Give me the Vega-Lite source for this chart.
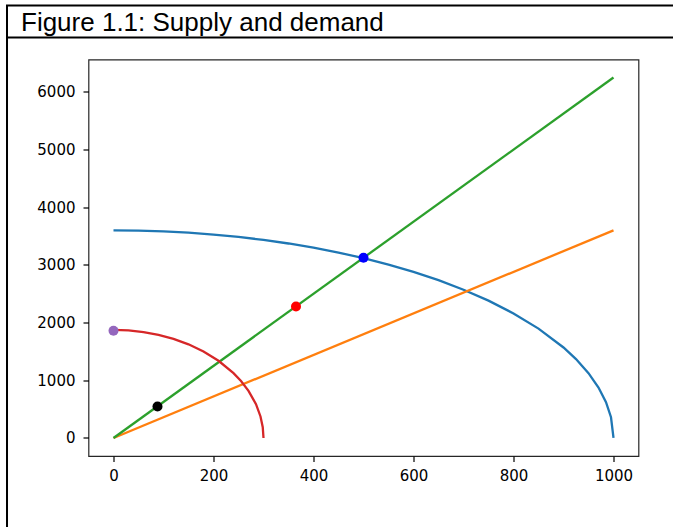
{
  "$schema": "https://vega.github.io/schema/vega-lite/v6.json",
  "autosize": {"type": "none"},
  "padding": {"left": 7, "top": 5.5, "right": 666, "bottom": 521.5},
  "background": "white",
  "config": {
    "view": {"stroke": null},
    "font": "DejaVu Sans",
    "axis": {
      "labelFont": "DejaVu Sans",
      "labelFontSize": 15,
      "labelColor": "#000",
      "tickColor": "#000",
      "tickWidth": 1.2,
      "tickSize": 5.5,
      "domain": false,
      "grid": false,
      "title": null,
      "labelPadding": 6,
      "format": "d"
    }
  },
  "datasets": {
    "curves": [
      {"curve": "curve 1", "x": 0, "y": 3600},
      {"curve": "curve 1", "x": 50, "y": 3595.5},
      {"curve": "curve 1", "x": 100, "y": 3582},
      {"curve": "curve 1", "x": 150, "y": 3559.3},
      {"curve": "curve 1", "x": 200, "y": 3527.3},
      {"curve": "curve 1", "x": 250, "y": 3485.7},
      {"curve": "curve 1", "x": 300, "y": 3434.2},
      {"curve": "curve 1", "x": 350, "y": 3372.3},
      {"curve": "curve 1", "x": 400, "y": 3299.5},
      {"curve": "curve 1", "x": 450, "y": 3214.9},
      {"curve": "curve 1", "x": 500, "y": 3117.7},
      {"curve": "curve 1", "x": 550, "y": 3006.6},
      {"curve": "curve 1", "x": 600, "y": 2880},
      {"curve": "curve 1", "x": 650, "y": 2735.7},
      {"curve": "curve 1", "x": 700, "y": 2570.9},
      {"curve": "curve 1", "x": 750, "y": 2381.2},
      {"curve": "curve 1", "x": 800, "y": 2160},
      {"curve": "curve 1", "x": 850, "y": 1896.4},
      {"curve": "curve 1", "x": 900, "y": 1569.2},
      {"curve": "curve 1", "x": 925, "y": 1367.9},
      {"curve": "curve 1", "x": 950, "y": 1124.1},
      {"curve": "curve 1", "x": 970, "y": 875.2},
      {"curve": "curve 1", "x": 985, "y": 621.2},
      {"curve": "curve 1", "x": 995, "y": 359.5},
      {"curve": "curve 1", "x": 1000, "y": 0},
      {"curve": "curve 2", "x": 0, "y": 0},
      {"curve": "curve 2", "x": 1000, "y": 3600},
      {"curve": "curve 3", "x": 0, "y": 0},
      {"curve": "curve 3", "x": 1000, "y": 6250},
      {"curve": "curve 4", "x": 0, "y": 1875},
      {"curve": "curve 4", "x": 30, "y": 1865.6},
      {"curve": "curve 4", "x": 60, "y": 1837.1},
      {"curve": "curve 4", "x": 90, "y": 1788.6},
      {"curve": "curve 4", "x": 120, "y": 1718.5},
      {"curve": "curve 4", "x": 150, "y": 1623.8},
      {"curve": "curve 4", "x": 180, "y": 1500},
      {"curve": "curve 4", "x": 210, "y": 1339},
      {"curve": "curve 4", "x": 240, "y": 1125},
      {"curve": "curve 4", "x": 255, "y": 987.7},
      {"curve": "curve 4", "x": 270, "y": 817.3},
      {"curve": "curve 4", "x": 285, "y": 585.5},
      {"curve": "curve 4", "x": 294, "y": 373.1},
      {"curve": "curve 4", "x": 298.5, "y": 187.3},
      {"curve": "curve 4", "x": 300, "y": 0}
    ],
    "points": [
      {"point": "purple", "x": 0, "y": 1860},
      {"point": "black", "x": 88, "y": 545},
      {"point": "red", "x": 365, "y": 2280},
      {"point": "blue", "x": 500, "y": 3125}
    ]
  },
  "bounds": "flush",
  "spacing": 0,
  "vconcat": [
    {
      "width": 668,
      "height": 32,
      "view": {"stroke": "#000", "strokeWidth": 2},
      "title": {
        "text": "Figure 1.1: Supply and demand",
        "anchor": "start",
        "frame": "group",
        "orient": "top",
        "offset": -30,
        "dx": 14,
        "font": "Liberation Sans",
        "fontSize": 26,
        "fontWeight": "normal",
        "color": "#000"
      },
      "data": {"values": []},
      "mark": "point"
    },
    {
      "bounds": "flush",
      "spacing": 80.5,
      "hconcat": [
        {
          "width": 0.01,
          "height": 520,
          "view": {"stroke": "#000", "strokeWidth": 2},
          "data": {"values": []},
          "mark": "point"
        },
        {
          "bounds": "flush",
          "spacing": 21,
          "vconcat": [
            {
              "width": 550,
              "height": 0.01,
              "data": {"values": []},
              "mark": "point"
            },
            {
              "width": 550,
              "height": 396.5,
              "view": {"stroke": "#262626", "strokeWidth": 1.2},
              "layer": [
                {
                  "data": {"name": "curves"},
                  "mark": {"type": "line", "strokeWidth": 2.3},
                  "encoding": {
                    "x": {"field": "x", "type": "quantitative", "scale": {"domain": [-50, 1050], "nice": false, "zero": false}, "axis": {"values": [0, 200, 400, 600, 800, 1000], "labelPadding": 7}},
                    "y": {"field": "y", "type": "quantitative", "scale": {"domain": [-312.5, 6562.5], "nice": false, "zero": false}, "axis": {"values": [0, 1000, 2000, 3000, 4000, 5000, 6000], "labelPadding": 8}},
                    "color": {"field": "curve", "type": "nominal", "scale": {"domain": ["curve 1", "curve 2", "curve 3", "curve 4"], "range": ["#1f77b4", "#ff7f0e", "#2ca02c", "#d62728"]}, "legend": null}
                  }
                },
                {
                  "data": {"name": "points"},
                  "mark": {"type": "circle", "size": 100, "opacity": 1},
                  "encoding": {
                    "x": {"field": "x", "type": "quantitative"},
                    "y": {"field": "y", "type": "quantitative"},
                    "color": {"field": "point", "type": "nominal", "scale": {"domain": ["purple", "black", "red", "blue"], "range": ["#9467bd", "#000000", "#ff0000", "#0000ff"]}, "legend": null}
                  }
                }
              ],
              "resolve": {"scale": {"color": "independent"}}
            }
          ]
        }
      ]
    }
  ]
}
